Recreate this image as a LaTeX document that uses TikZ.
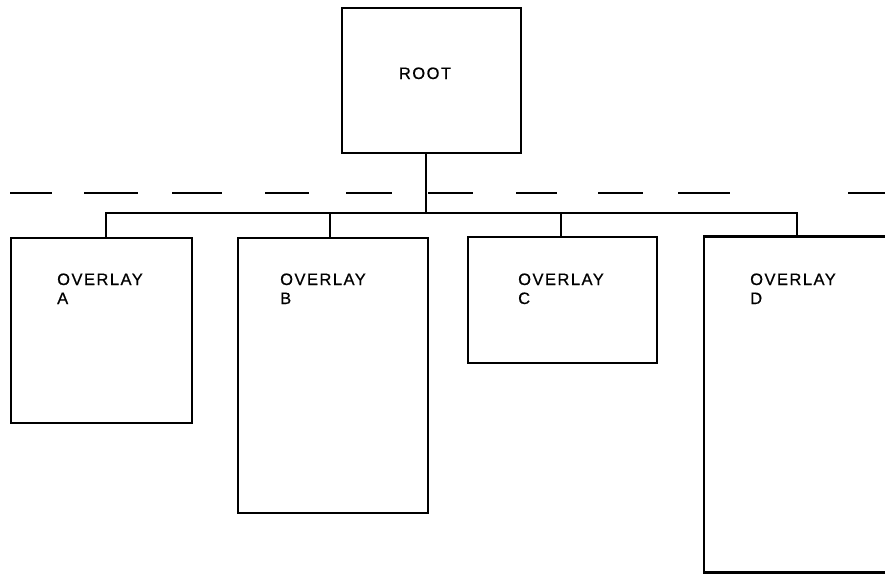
\documentclass[tikz,border=0pt]{standalone}
\usepackage{fontspec}
\setmainfont{Liberation Sans}[LetterSpace=9,FakeBold=0.6]
\begin{document}
\begin{tikzpicture}[x=1pt,y=-1pt,
  box/.style={draw,line width=2.6pt,inner sep=0pt,outer sep=0pt,rectangle},
  lbl/.style={anchor=base west,inner sep=0pt,font=\fontsize{16.5}{19}\selectfont,align=left},
  conn/.style={line width=2.4pt},
  dashseg/.style={line width=2.4pt}]
\useasboundingbox (0,0) rectangle (885,576);
\begin{scope}
\clip (0,0) rectangle (885,576);
\node[box,minimum width=179pt,minimum height=145pt] (root) at (431.5,80.5) {};
\node[box,minimum width=181pt,minimum height=185pt] (A) at (101.5,330.5) {};
\node[box,minimum width=190pt,minimum height=275pt] (B) at (333,375.5) {};
\node[box,minimum width=189pt,minimum height=126pt] (C) at (562.5,300) {};
\node[box,minimum width=201pt,minimum height=336pt] (D) at (804.5,404.5) {};
\end{scope}
\node[anchor=base,inner sep=0pt,font=\fontsize{16.5}{19}\selectfont] (rootlbl) at (425,79) {ROOT};
\node[lbl] (Al) at (57,304) {OVERLAY\\A};
\node[lbl] (Bl) at (280,304) {OVERLAY\\B};
\node[lbl] (Cl) at (518,304) {OVERLAY\\C};
\node[lbl] (Dl) at (750,304) {OVERLAY\\D};
% bus
\coordinate (stem) at (426,213);
\coordinate (busL) at (106,213);
\coordinate (busR) at (797,213);
\coordinate (busB) at (330,213);
\coordinate (busC) at (561,213);
\draw[conn] (root.south -| stem) -- (stem);
\draw[conn] (busL |- A.north) -- (busL) -- (busR) -- (busR |- D.north);
\draw[conn] (busB) -- (busB |- B.north);
\draw[conn] (busC) -- (busC |- C.north);
% dashed separator
\foreach \a/\b in {10/52,84/138,172/222,265/309,346/392,428/473,516/557,598/643,678/730,848/885}
  \draw[dashseg] (\a,193) -- (\b,193);
\end{tikzpicture}
\end{document}
